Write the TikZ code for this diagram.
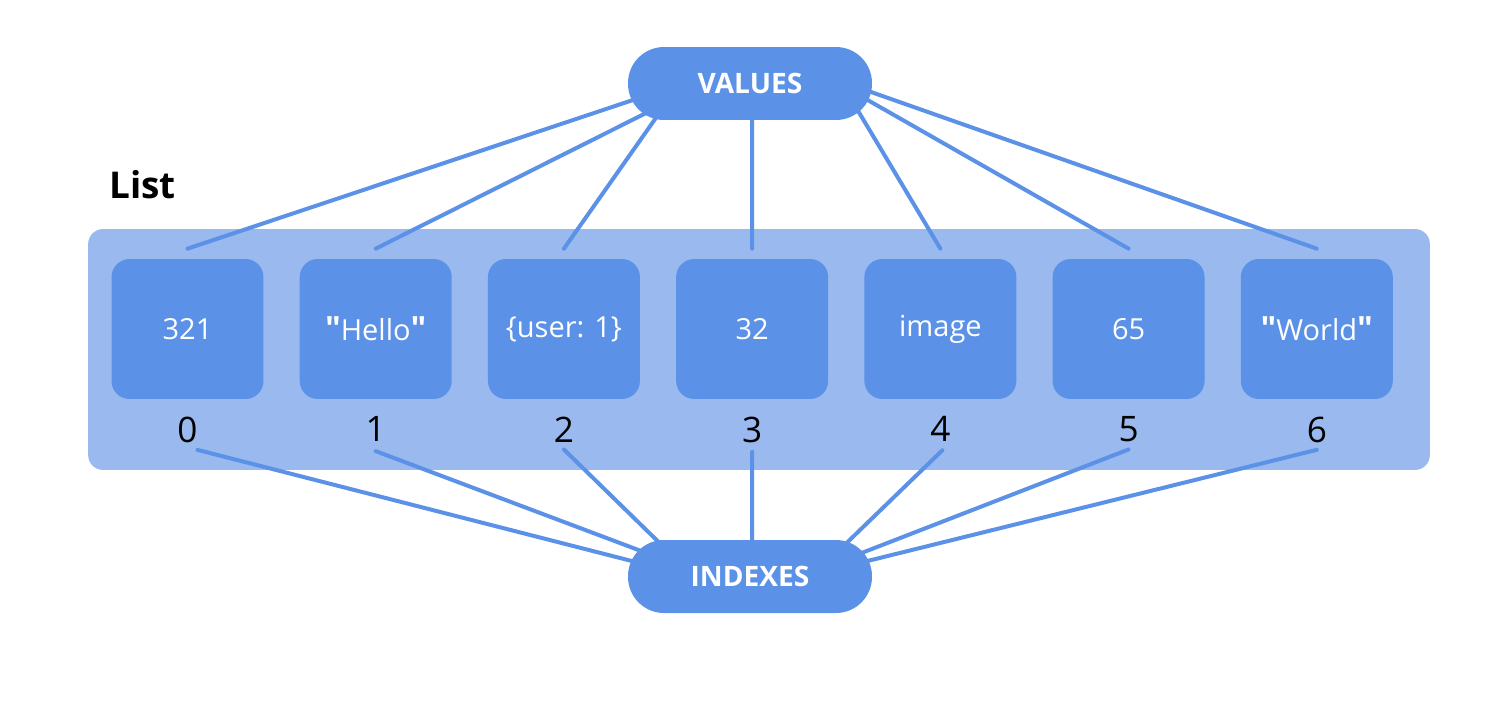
\documentclass[tikz,border=0pt]{standalone}
\usepackage{fontspec}
\setmainfont{Open Sans}[BoldFont={Open Sans Bold}]
\usetikzlibrary{positioning}
\definecolor{listblue}{RGB}{91,146,232}
\definecolor{listpale}{RGB}{154,185,238}
\newcommand{\qmark}{{\bfseries\fontsize{19}{20}\selectfont\textquotedbl}}

\begin{document}
\begin{tikzpicture}[
    x=0.02cm, y=-0.02cm,
    node distance=0.711cm,
    panel/.style={
        rectangle,
        rounded corners=0.3cm,
        fill=listpale,
        minimum width=26.84cm,
        minimum height=4.82cm
    },
    cell/.style={
        rectangle,
        rounded corners=0.36cm,
        fill=listblue,
        text=white,
        minimum width=3.04cm,
        minimum height=2.8cm,
        font=\fontsize{16.5}{20}\selectfont
    },
    idx/.style={
        inner sep=0pt,
        font=\fontsize{20}{24}\selectfont
    },
    pill/.style={
        rectangle,
        rounded corners=0.72cm,
        fill=listblue,
        text=white,
        minimum width=4.88cm,
        minimum height=1.46cm,
        font=\bfseries\fontsize{16}{20}\selectfont
    },
    link/.style={
        draw=listblue,
        line width=0.08cm,
        line cap=round
    }
]
\useasboundingbox (0,0) rectangle (1500,700);

% the list and its title
\node[panel] (list) at (759,349.5) {};
\node[anchor=west, font=\bfseries\fontsize{21}{26}\selectfont] (title) at (103,185) {List};

% the cells
\node[cell] (v0) at (187.5,329) {321};
\node[cell, right=of v0] (v1) {\qmark Hello\qmark};
\node[cell, right=of v1] (v2) {\{user: 1\}};
\node[cell, right=of v2] (v3) {32};
\node[cell, right=of v3] (v4) {image};
\node[cell, right=of v4] (v5) {65};
\node[cell, right=of v5] (v6) {\qmark World\qmark};

% the indexes
\node[idx, below=0.34cm of v0] (i0) {0};
\node[idx, below=0.34cm of v1] (i1) {1};
\node[idx, below=0.34cm of v2] (i2) {2};
\node[idx, below=0.34cm of v3] (i3) {3};
\node[idx, below=0.34cm of v4] (i4) {4};
\node[idx, below=0.34cm of v5] (i5) {5};
\node[idx, below=0.34cm of v6] (i6) {6};

% the two labels
\coordinate (values) at (750,83.5);
\coordinate (indexes) at (750,576.5);

% links to values
\draw[link] ([yshift=0.2cm]v0.north) -- ([shift={(-84,5.5)}]values);
\draw[link] ([yshift=0.2cm]v1.north) -- ([shift={(-72,13.5)}]values);
\draw[link] ([yshift=0.2cm]v2.north) -- ([shift={(-78,11.5)}]values);
\draw[link] ([yshift=0.2cm]v3.north) -- ([shift={(2,16)}]values);
\draw[link] ([yshift=0.2cm]v4.north) -- ([shift={(95,5.5)}]values);
\draw[link] ([yshift=0.2cm]v5.north) -- ([shift={(86,-1.5)}]values);
\draw[link] ([yshift=0.2cm]v6.north) -- ([shift={(84,-4.5)}]values);

% links to indexes
\draw[link] ([shift={(10,7)}]i0.south) -- ([shift={(-83,-6.5)}]indexes);
\draw[link] ([shift={(0,9)}]i1.south) -- ([shift={(-77,-13.5)}]indexes);
\draw[link] ([shift={(0,7)}]i2.south) -- ([shift={(-72,-15.5)}]indexes);
\draw[link] ([shift={(0,9)}]i3.south) -- ([shift={(2,-6.5)}]indexes);
\draw[link] ([shift={(2,8)}]i4.south) -- ([shift={(78,-15.5)}]indexes);
\draw[link] ([shift={(0,7)}]i5.south) -- ([shift={(78,-10.5)}]indexes);
\draw[link] ([shift={(0,7)}]i6.south) -- ([shift={(81,-6.5)}]indexes);

\node[pill] (valuesbox) at (values) {VALUES};
\node[pill] (indexesbox) at (indexes) {INDEXES};

\end{tikzpicture}
\end{document}
